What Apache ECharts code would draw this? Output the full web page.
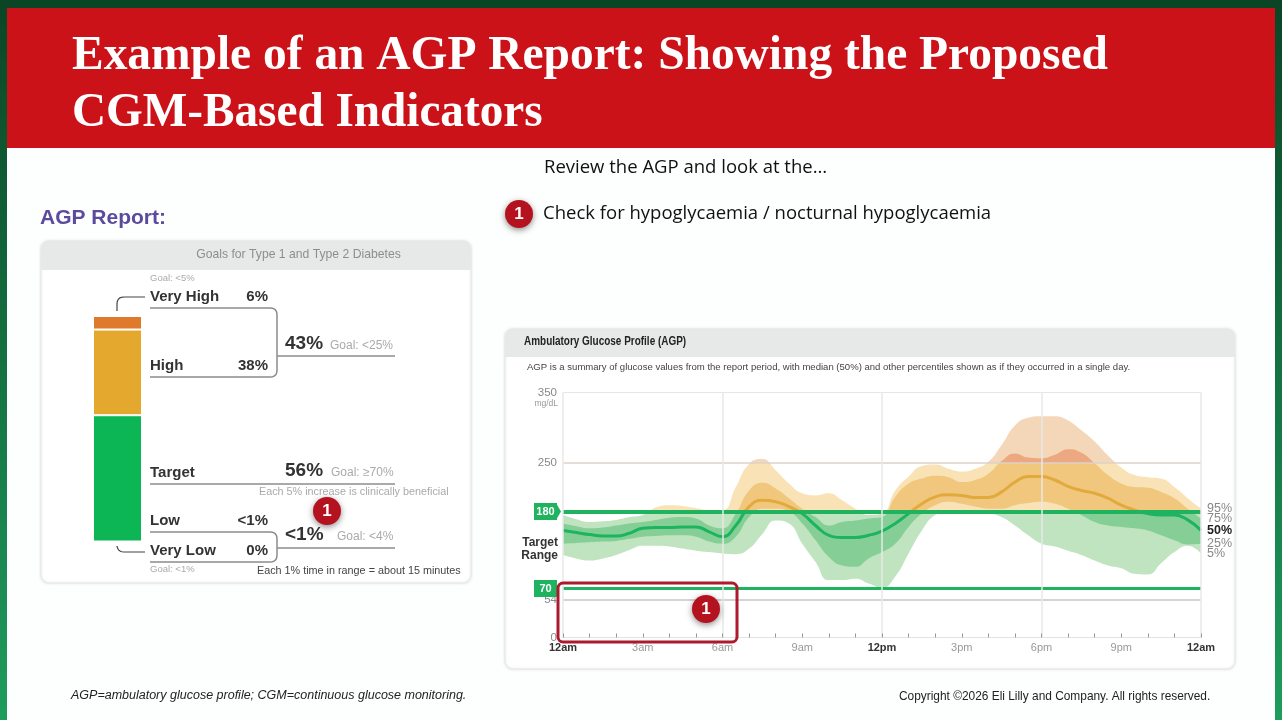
<!DOCTYPE html>
<html><head><meta charset="utf-8">
<style>html,body{margin:0;padding:0;background:#fff;overflow:hidden}#c{width:1282px;height:720px;filter:blur(.35px)}</style>
<script src="https://cdn.jsdelivr.net/npm/echarts@6/dist/echarts.min.js"></script>
</head><body><div id="c"></div>
<script>
const hours=[0,.5,1,1.5,2,2.5,3,3.5,4,4.5,5,5.5,6,6.5,7,7.5,8,8.5,9,9.5,10,10.5,11,11.5,12,12.5,13,13.5,14,14.5,15,15.5,16,16.5,17,17.5,18,18.5,19,19.5,20,20.5,21,21.5,22,22.5,23,23.5,24];
const p95=[175,169,165,166,168,172,175,186,189,188,185,182,182,215,248,255,239,220,206,203,206,196,184,175,177,210,230,245,247,241,237,241,251,275,303,314,316,316,310,296,280,260,243,232,229,227,215,199,184];
const p75=[163,159,156,157,160,163,165,168,171,172,170,160,156,177,210,221,213,199,184,172,160,165,167,170,172,201,220,227,231,229,222,225,234,252,263,257,256,261,269,264,249,232,220,215,214,208,199,184,170];
const p50=[153,150,147,145,145,149,156,157,157,158,158,151,144,160,187,196,194,187,177,160,146,143,143,146,152,163,177,191,201,204,203,200,200,208,222,230,230,225,216,210,206,199,189,182,177,175,175,168,153];
const p25=[134,135,136,137,138,141,144,145,146,146,144,137,134,144,172,184,184,180,163,139,115,103,101,113,122,134,158,177,189,194,191,187,184,184,189,192,194,191,184,175,165,160,158,156,153,146,139,133,134];
const p5=[118,113,110,113,118,125,131,131,130,127,124,122,120,119,127,148,167,163,134,108,82,82,84,77,71,87,120,153,175,180,181,180,178,172,160,146,134,130,124,118,110,103,99,91,90,106,122,131,120];
const timeLabels=['12am','3am','6am','9am','12pm','3pm','6pm','9pm','12am'];
const yTicks=[0,54,70,180,250,350];
const targetLimits=[70,180];
const referenceLimits=[54,250,350];
const rangeNames=['Very High','High','Target','Low','Very Low'];
const rangePercents=['6%','38%','56%','<1%','0%'];
const rangeBarValues=[6,38,56,0,0];
const rangeGoals=['Goal: <5%','Goal: <25%','Goal: ≥70%','Goal: <4%','Goal: <1%'];
const combinedPercents=['43%','<1%'];

const G={l:563,r:1201,t:392.5,b:637.5};
const zone=(lo,mid,hi)=>{const a=(350-250)/350,b=(350-180)/350;return {type:'linear',global:true,x:0,y:G.t,x2:0,y2:G.b,colorStops:[
 {offset:0,color:hi},{offset:a,color:hi},{offset:a,color:mid},{offset:b,color:mid},{offset:b,color:lo},{offset:1,color:lo}]};};
const light=zone('#bfe4bf','#f9e3b6','#f4d7b9');
const dark=zone('#85cf97','#f0c77c','#eca880');
const band=(name,data,fill,label)=>({name,type:'line',xAxisIndex:0,yAxisIndex:0,data:hours.map((h,i)=>[h,data[i]]),smooth:.5,symbol:'none',
 lineStyle:{width:0},areaStyle:{color:fill,opacity:1},
 endLabel:{show:true,formatter:label,color:'#888',fontSize:12.5,fontFamily:'Liberation Sans',distance:6}});

const sans='"Liberation Sans",Arial,sans-serif';
const T=(text,x,y,fill,font,align,sx)=>({type:'text',z:50,x,y,scaleX:sx||1,style:{text,x:0,y:0,fill,font,textAlign:align||'left',textVerticalAlign:'middle'}});
// polyline with rounded corners, from a list of corner points
const L=(pts,stroke,w,r)=>{const out=[pts[0]];
 for(let i=1;i<pts.length-1;i++){const [a,b,c]=[pts[i-1],pts[i],pts[i+1]];
  const u=(p,q)=>{const d=Math.hypot(q[0]-p[0],q[1]-p[1]);return [(q[0]-p[0])/d,(q[1]-p[1])/d];};
  const ua=u(b,a),uc=u(b,c),s=[b[0]+ua[0]*r,b[1]+ua[1]*r],e=[b[0]+uc[0]*r,b[1]+uc[1]*r];
  for(let t=0;t<=1.001;t+=.2){const m=1-t;out.push([m*m*s[0]+2*m*t*b[0]+t*t*e[0],m*m*s[1]+2*m*t*b[1]+t*t*e[1]]);}}
 out.push(pts[pts.length-1]);
 return {type:'polyline',z:40,shape:{points:out},style:{fill:null,stroke,lineWidth:w}};};
const badge=(x,y)=>[{type:'circle',z:60,shape:{cx:x,cy:y,r:14},style:{fill:'#b5121f',shadowBlur:6,shadowColor:'rgba(0,0,0,.45)',shadowOffsetY:2}},
 {type:'text',z:61,style:{text:'1',x,y,fill:'#fff',font:'bold 17px '+sans,textAlign:'center',textVerticalAlign:'middle'}}];
const panel=(x,y,w,h,hh)=>[
 {type:'rect',z:-9,shape:{x,y,width:w,height:h,r:8},style:{fill:'#fff',stroke:'#e9ebea',lineWidth:1.5,shadowBlur:3,shadowColor:'rgba(0,0,0,.08)'}},
 {type:'rect',z:-8,shape:{x,y,width:w,height:hh,r:[8,8,0,0]},style:{fill:'#e7e9e8'}}];

const bold15='bold 15px '+sans, big='bold 19px '+sans, goal='12px '+sans, tiny='9.5px '+sans;
const grey='#8c8c8c';
const graphics=[
 {type:'rect',z:-20,shape:{x:0,y:0,width:1282,height:720},style:{fill:{type:'linear',x:0,y:0,x2:0,y2:1,colorStops:[{offset:0,color:'#0a4525'},{offset:1,color:'#1f9c5e'}]}}},
 {type:'rect',z:-15,shape:{x:7,y:8,width:1268,height:712},style:{fill:'#fdfefe'}},
 {type:'rect',z:-14,shape:{x:7,y:8,width:1268,height:140},style:{fill:'#cc1219'}},
 T('Example of an AGP Report: Showing the Proposed',72,57,'#fff','bold 48px "Liberation Serif"','left',.988),
 T('CGM-Based Indicators',72,114,'#fff','bold 48px "Liberation Serif"','left',.983),
 T('Review the AGP and look at the…',544,168,'#111','18.5px "Open Sans"'),
 T('Check for hypoglycaemia / nocturnal hypoglycaemia',543,214,'#111','18.5px "Open Sans"'),
 T('AGP Report:',40,218,'#5b4b9f','bold 21px '+sans),
 ...panel(41,241,430,342,29),
 ...panel(505,329,730,340,28),
 T('Goals for Type 1 and Type 2 Diabetes',298.5,255,'#8d8d8d','12.2px '+sans,'center'),
 T('Ambulatory Glucose Profile (AGP)',524,342,'#222','bold 12px '+sans,'left',.83),
 T('AGP is a summary of glucose values from the report period, with median (50%) and other percentiles shown as if they occurred in a single day.',527,367,'#444','9.55px '+sans),
 T(rangeGoals[0],150,278,'#aaa',tiny),
 T(rangeNames[0],150,297,'#333',bold15), T(rangePercents[0],268,297,'#333',bold15,'right'),
 T(rangeNames[1],150,366,'#333',bold15), T(rangePercents[1],268,366,'#333',bold15,'right'),
 T(combinedPercents[0],285,344,'#333',big), T(rangeGoals[1],330,346,'#aaa',goal),
 T(rangeNames[2],150,473,'#333',bold15), T(rangePercents[2],285,471,'#333',big), T(rangeGoals[2],331,473,'#aaa',goal),
 T('Each 5% increase is clinically beneficial',259,492,'#aaa','10.8px '+sans),
 T(rangeNames[3],150,521,'#333',bold15), T(rangePercents[3],268,521,'#333',bold15,'right'),
 T(rangeNames[4],150,551,'#333',bold15), T(rangePercents[4],268,551,'#333',bold15,'right'),
 T(combinedPercents[1],285,535,'#333',big), T(rangeGoals[3],337,537,'#aaa',goal),
 T(rangeGoals[4],150,569,'#aaa',tiny),
 T('Each 1% time in range = about 15 minutes',257,571,'#444','10.8px '+sans),
 L([[150,308],[277,308],[277,377],[150,377]],grey,1.5,7),
 L([[277,356],[395,356]],grey,1.5,0),
 L([[150,484],[395,484]],grey,1.5,0),
 L([[150,532],[277,532],[277,562],[150,562]],grey,1.5,7),
 L([[277,548],[395,548]],grey,1.5,0),
 L([[117,311],[117,297],[145,297]],'#444',1.2,7),
 L([[117,546],[118,552],[145,552]],'#444',1.2,6),
 T('mg/dL',558,404,'#999','8.5px '+sans,'right'),
 T('Target',558,543,'#333','bold 12px '+sans,'right'),
 T('Range',558,556,'#333','bold 12px '+sans,'right'),
 {type:'polygon',z:45,shape:{points:[[556,503],[561,511.5],[556,520]]},style:{fill:'#1fb35f'}},
 {type:'rect',z:55,shape:{x:558,y:583,width:179,height:59,r:5},style:{fill:'none',stroke:'#ac1b2d',lineWidth:3}},
 ...badge(706,609),...badge(327,511),...badge(519,214),
 T('AGP=ambulatory glucose profile; CGM=continuous glucose monitoring.',71,696,'#222','italic 12.5px '+sans),
 T('Copyright ©2026 Eli Lilly and Company. All rights reserved.',899,697,'#222','11.9px '+sans),
];

const hLine=(v,color,width)=>({yAxis:v,lineStyle:{color,width,type:'solid'}});
const chart=echarts.init(document.getElementById('c'),null,{renderer:'canvas'});
chart.setOption({
 animation:false,
 graphic:{elements:graphics},
 grid:[{left:G.l,top:G.t,width:G.r-G.l,height:G.b-G.t},{left:93,top:316,width:49,height:225.5}],
 xAxis:[
  {type:'value',gridIndex:0,min:0,max:24,interval:1,z:6,splitLine:{show:false},
   axisLine:{onZero:false,lineStyle:{color:'#e2e2e2'}},
   axisTick:{inside:true,length:4,lineStyle:{color:'#999'}},
   axisLabel:{margin:5,showMinLabel:true,showMaxLabel:true,fontFamily:sans,
    formatter:v=>{if(v%3)return '';const s=timeLabels[v/3];return v%12===0?'{b|'+s+'}':'{n|'+s+'}';},
    rich:{b:{fontWeight:'bold',color:'#333',fontSize:11,fontFamily:sans},n:{color:'#999',fontSize:11,fontFamily:sans}}}},
  {type:'value',gridIndex:0,min:0,max:24,interval:6,z:6,position:'top',axisLine:{show:false},axisTick:{show:false},axisLabel:{show:false},
   splitLine:{show:true,lineStyle:{color:'#e9e9e9',width:1.5}}},
  {type:'category',gridIndex:1,data:['Time in ranges'],show:false}
 ],
 yAxis:[
  {type:'value',gridIndex:0,min:0,max:350,axisLine:{show:false},axisTick:{show:false},splitLine:{show:false},
   axisLabel:{customValues:yTicks,margin:6,
    formatter:v=>v===180||v===70?'{t|'+v+'}':'{n|'+v+'}',
    rich:{n:{color:'#888',fontSize:11.5,fontFamily:sans},t:{color:'#fff',fontSize:11,fontWeight:'bold',fontFamily:sans,backgroundColor:'#1fb35f',width:23,height:17,align:'center',lineHeight:17}}}},
  {type:'value',gridIndex:1,min:0,max:100,show:false}
 ],
 series:[
  band('95%',p95,light,'95%'),
  band('75%',p75,dark,'75%'),
  band('25%',p25,light,'25%'),
  band('5%',p5,'#ffffff','5%'),
  {name:'50%',type:'line',xAxisIndex:0,yAxisIndex:0,data:hours.map((h,i)=>[h,p50[i]]),smooth:.5,symbol:'none',z:3,
   lineStyle:{width:3,color:zone('#1db45f','#e2aa3c','#e2aa3c')},
   endLabel:{show:true,formatter:'50%',color:'#222',fontWeight:'bold',fontSize:12.5,fontFamily:'Liberation Sans',distance:6}},
  {name:'limits',type:'line',xAxisIndex:0,yAxisIndex:0,data:[],z:4,symbol:'none',
   markLine:{silent:true,symbol:'none',label:{show:false},animation:false,
    data:[...referenceLimits.map(v=>hLine(v,v===350?'#e6e6e6':(v===250?'#ddd2ca':'#c9c4c4'),v===350?1:1.5)),
          hLine(targetLimits[1],'#1fb35f',4),hLine(targetLimits[0],'#1fb35f',3)]}},
  ...rangeNames.map((n,i)=>({name:n,type:'bar',stack:'r',xAxisIndex:2,yAxisIndex:1,barWidth:'100%',z:2,
    data:[rangeBarValues[i]],itemStyle:{color:['#df7a2c','#e5a82e','#0db654','#e35','#a11'][i],borderColor:'#fff',borderWidth:1}})).reverse()
 ]
});
</script></body></html>
